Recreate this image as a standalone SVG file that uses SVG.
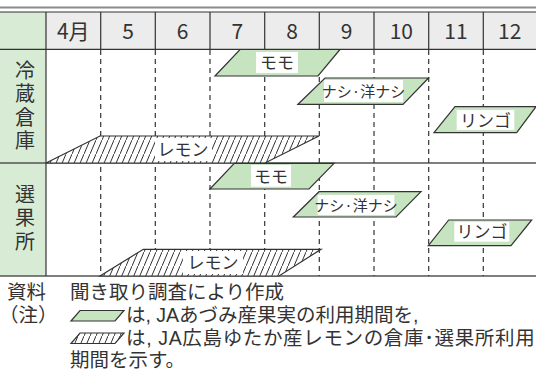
<svg xmlns="http://www.w3.org/2000/svg" width="536" height="372" viewBox="0 0 536 372">
<defs>
<pattern id="hatch" patternUnits="userSpaceOnUse" width="6" height="14">
<rect width="6" height="14" fill="#fff"/>
<line x1="0" y1="14" x2="6" y2="0" stroke="#333" stroke-width="1"/>
</pattern>
</defs>
<style>
.t{font-family:"Noto Sans CJK JP","Noto Sans",sans-serif;fill:#333}
.m{font-size:21px;text-anchor:middle}
.v{font-size:20px;writing-mode:vertical-rl;letter-spacing:3.5px}
.lb{font-size:17px;text-anchor:middle}
.lg{font-family:"Liberation Sans","Noto Sans CJK JP",sans-serif;font-size:19.5px;fill:#333}
.g{fill:#c6e4c0;stroke:#333;stroke-width:1.2}
.h{fill:url(#hatch);stroke:#333;stroke-width:1.2}
.box{fill:#fff}
.solid{stroke:#333;stroke-width:1.2;fill:none}
.dash{stroke:#333;stroke-width:1.2;stroke-dasharray:5 4;fill:none}
</style>
<rect width="536" height="372" fill="#fff"/>
<!-- backgrounds -->
<rect x="46" y="12" width="490" height="37" fill="#ececec"/>
<rect x="0" y="12" width="46" height="264" fill="#d8ecd5"/>
<!-- grid -->
<g id="grid">
<line x1="0" y1="7.5" x2="536" y2="7.5" stroke="#8a8a8a" stroke-width="2"/>
<line class="solid" x1="0" y1="12" x2="536" y2="12"/>
<line class="solid" x1="0" y1="49.3" x2="536" y2="49.3"/>
<line x1="0" y1="163" x2="536" y2="163" stroke="#555" stroke-width="1.6"/>
<line x1="0" y1="276" x2="536" y2="276" stroke="#555" stroke-width="1.6"/>
<line class="solid" x1="46" y1="12" x2="46" y2="276"/>
<g class="solid">
<line x1="100.7" y1="12" x2="100.7" y2="49"/>
<line x1="155.3" y1="12" x2="155.3" y2="49"/>
<line x1="210" y1="12" x2="210" y2="49"/>
<line x1="264.7" y1="12" x2="264.7" y2="49"/>
<line x1="319.3" y1="12" x2="319.3" y2="49"/>
<line x1="374" y1="12" x2="374" y2="49"/>
<line x1="428.7" y1="12" x2="428.7" y2="49"/>
<line x1="483.3" y1="12" x2="483.3" y2="49"/>
</g>
<g class="dash">
<line x1="100.7" y1="50" x2="100.7" y2="276"/>
<line x1="155.3" y1="50" x2="155.3" y2="276"/>
<line x1="210" y1="50" x2="210" y2="276"/>
<line x1="264.7" y1="50" x2="264.7" y2="276"/>
<line x1="319.3" y1="50" x2="319.3" y2="276"/>
<line x1="374" y1="50" x2="374" y2="276"/>
<line x1="428.7" y1="50" x2="428.7" y2="276"/>
<line x1="483.3" y1="50" x2="483.3" y2="276"/>
</g>
</g>
<!-- header -->
<g id="header" class="t m">
<text x="73.3" y="38.5">4月</text>
<text x="128" y="38.5">5</text>
<text x="182.7" y="38.5">6</text>
<text x="237.3" y="38.5">7</text>
<text x="292" y="38.5">8</text>
<text x="346.7" y="38.5">9</text>
<text x="401.3" y="38.5">10</text>
<text x="456" y="38.5">11</text>
<text x="509.7" y="38.5">12</text>
</g>
<g id="row1-label">
<text class="t v" x="25" y="60">冷蔵倉庫</text>
</g>
<g id="row2-label">
<text class="t v" x="25" y="184">選果所</text>
</g>
<!-- row 1 bars -->
<g id="r1-lemon">
<polygon class="h" points="46,163 100,136 319,136 265,163"/>
<rect class="box" x="155" y="138" width="57" height="23"/>
<text class="t lb" x="183" y="156">レモン</text>
</g>
<g id="r1-momo">
<polygon class="g" points="215,76 240,49.5 340,49.5 318,76"/>
<rect class="box" x="256" y="52" width="42" height="21"/>
<text class="t lb" x="277" y="69">モモ</text>
</g>
<g id="r1-nashi">
<polygon class="g" points="298,104.3 325,78 428.5,78 403,104.3"/>
<rect class="box" x="324" y="80" width="79" height="22"/>
<text class="t" x="363.5" y="97" font-size="15" text-anchor="middle">ナシ·洋ナシ</text>
</g>
<g id="r1-ringo">
<polygon class="g" points="434,132.7 455,106.7 536,106.7 516.7,132.7"/>
<rect class="box" x="456.7" y="110" width="57.6" height="20"/>
<text class="t lb" x="485.5" y="126.5">リンゴ</text>
</g>
<!-- row 2 bars -->
<g id="r2-lemon">
<polygon class="h" points="100,276 143.3,249.3 321,249.3 279,276"/>
<rect class="box" x="183" y="251" width="60" height="23"/>
<text class="t lb" x="213" y="269">レモン</text>
</g>
<g id="r2-momo">
<polygon class="g" points="210,189 234.3,163.3 334,163.3 309,189"/>
<rect class="box" x="251" y="165" width="40" height="21.7"/>
<text class="t lb" x="271" y="182.5">モモ</text>
</g>
<g id="r2-nashi">
<polygon class="g" points="293.3,217 319,191.7 421,191.7 396,217"/>
<rect class="box" x="317.7" y="195" width="76.6" height="20"/>
<text class="t" x="356" y="210.5" font-size="15" text-anchor="middle">ナシ·洋ナシ</text>
</g>
<g id="r2-ringo">
<polygon class="g" points="428.3,245.7 448.7,220 531.7,220 511,245.7"/>
<rect class="box" x="454.3" y="221.7" width="55" height="20"/>
<text class="t lb" x="482" y="238">リンゴ</text>
</g>
<!-- legend -->
<g id="legend">
<polygon class="g" points="71,321 80,310.5 124,310.5 115,321"/>
<polygon class="h" points="71,343.5 80,333 124,333 115,343.5"/>
<text class="lg"><tspan x="7" y="299">資料</tspan><tspan x="70" y="299">聞き取り調査により作成</tspan><tspan x="-1" y="322">（注）</tspan><tspan x="126" y="322">は, JAあづみ産果実の利用期間を,</tspan><tspan x="126" y="345" letter-spacing="0.65">は, JA広島ゆたか産レモンの倉庫･選果所利用</tspan><tspan x="70" y="367">期間を示す。</tspan></text>
</g>
</svg>
